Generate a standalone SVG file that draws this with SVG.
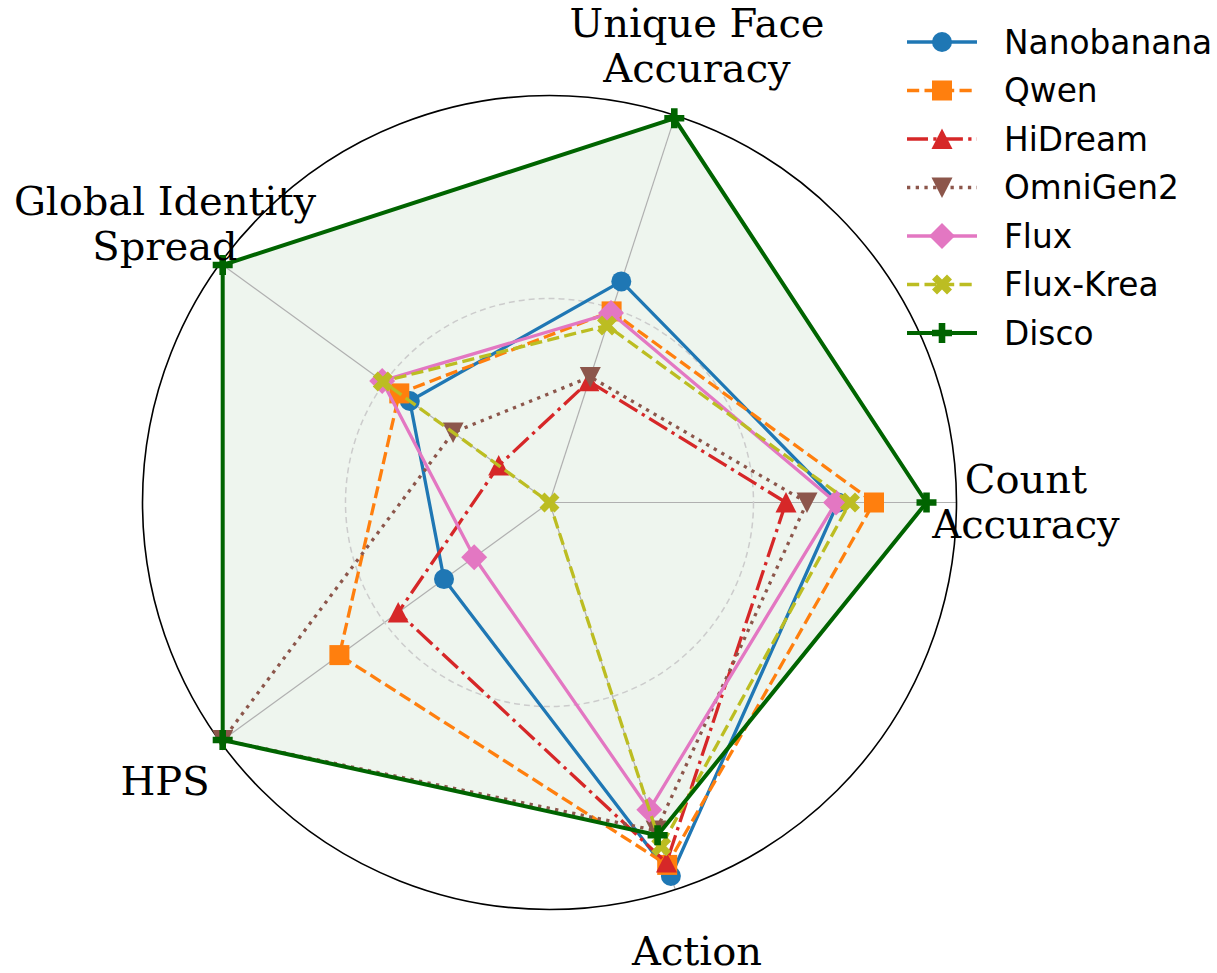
<svg xmlns="http://www.w3.org/2000/svg" xmlns:xlink="http://www.w3.org/1999/xlink" width="1217" height="973" viewBox="0 0 1217 973">
<style>
.lbl{font-family:"DejaVu Serif","Liberation Serif",serif;font-size:40px;fill:#000;text-anchor:middle}
.leg{font-family:"DejaVu Sans","Liberation Sans",sans-serif;font-size:32.8px;fill:#000}
.spoke{stroke:#b0b0b0;stroke-width:1.2;fill:none}
.s{fill:none;stroke-width:3.3;stroke-linejoin:round}
.nano{stroke:#1f77b4}
.qwen{stroke:#ff7f0e;stroke-dasharray:12.2 5.3}
.hid{stroke:#d62728;stroke-dasharray:21 5.3 3.3 5.3}
.omni{stroke:#8c564b;stroke-dasharray:3.3 5.4}
.flux{stroke:#e377c2}
.krea{stroke:#bcbd22;stroke-dasharray:12.2 5.3}
.disco{stroke:#006400;stroke-width:4}
</style>
<defs>
<circle id="mc" r="10" fill="#1f77b4"/>
<rect id="ms" x="-10" y="-10" width="20" height="20" fill="#ff7f0e"/>
<path id="mtu" d="M0,-10.5 L10.5,10 L-10.5,10 Z" fill="#d62728"/>
<path id="mtd" d="M0,10.5 L10.5,-10 L-10.5,-10 Z" fill="#8c564b"/>
<path id="md" d="M0,-13 L13,0 L0,13 L-13,0 Z" fill="#e377c2"/>
<path id="mx" d="M-5,-10 L0,-5 L5,-10 L10,-5 L5,0 L10,5 L5,10 L0,5 L-5,10 L-10,5 L-5,0 L-10,-5 Z" fill="#bcbd22"/>
<path id="mp" d="M-3.3,-10 L3.3,-10 L3.3,-3.3 L10,-3.3 L10,3.3 L3.3,3.3 L3.3,10 L-3.3,10 L-3.3,3.3 L-10,3.3 L-10,-3.3 L-3.3,-3.3 Z" fill="#006400"/>
</defs>
<rect width="1217" height="973" fill="#fff"/>

<g id="axes">
<circle cx="549.5" cy="502.5" r="407" fill="#fff"/>
<polygon id="disco-fill" points="926.5,502.5 674.3,118.3 222.7,265 222.7,740 657.6,835.2" fill="#006400" fill-opacity="0.065"/>
<line class="spoke" x1="549.5" y1="502.5" x2="956.5" y2="502.5"/>
<line class="spoke" x1="549.5" y1="502.5" x2="675.3" y2="115.4"/>
<line class="spoke" x1="549.5" y1="502.5" x2="220.2" y2="263.3"/>
<line class="spoke" x1="549.5" y1="502.5" x2="220.2" y2="741.7"/>
<line class="spoke" x1="549.5" y1="502.5" x2="675.3" y2="889.6"/>
<circle cx="549.5" cy="502.5" r="204" fill="none" stroke="#cccccc" stroke-width="1.5" stroke-dasharray="6 4"/>
<circle cx="549.5" cy="502.5" r="407" fill="none" stroke="#000" stroke-width="1.6"/>
</g>

<g id="connectors">
<g id="series-nanobanana">
<polyline class="s nano" points="838,502.5 621.3,281.4 409.8,401 444,579.1 670.9,876 838,502.5"/>
<use href="#mc" x="838" y="502.5"/><use href="#mc" x="621.3" y="281.4"/><use href="#mc" x="409.8" y="401"/><use href="#mc" x="444" y="579.1"/><use href="#mc" x="670.9" y="876"/>
</g>
<g id="series-qwen">
<polyline class="s qwen" points="874,502.5 611.6,311.4 399.3,393.4 339.4,655.1 667.2,864.9 874,502.5"/>
<use href="#ms" x="874" y="502.5"/><use href="#ms" x="611.6" y="311.4"/><use href="#ms" x="399.3" y="393.4"/><use href="#ms" x="339.4" y="655.1"/><use href="#ms" x="667.2" y="864.9"/>
</g>
<g id="series-hidream">
<polyline class="s hid" points="786,502.5 588.9,381.3 498.7,465.6 398.2,612.4 666.5,862.6 786,502.5"/>
<use href="#mtu" x="786" y="502.5"/><use href="#mtu" x="588.9" y="381.3"/><use href="#mtu" x="498.7" y="465.6"/><use href="#mtu" x="398.2" y="612.4"/><use href="#mtu" x="666.5" y="862.6"/>
</g>
<g id="series-omnigen2">
<polyline class="s omni" points="807,502.5 590.3,376.9 453.1,432.5 222.7,740 656.1,830.6 807,502.5"/>
<use href="#mtd" x="807" y="502.5"/><use href="#mtd" x="590.3" y="376.9"/><use href="#mtd" x="453.1" y="432.5"/><use href="#mtd" x="222.7" y="740"/><use href="#mtd" x="656.1" y="830.6"/>
</g>
<g id="series-flux">
<polyline class="s flux" points="836,502.5 611,313.1 382.2,380.9 474.2,557.2 649.3,809.8 836,502.5"/>
<use href="#md" x="836" y="502.5"/><use href="#md" x="611" y="313.1"/><use href="#md" x="382.2" y="380.9"/><use href="#md" x="474.2" y="557.2"/><use href="#md" x="649.3" y="809.8"/>
</g>
<g id="series-flux-krea">
<polyline class="s krea" points="850,502.5 607,325.5 382.8,381.4 549.5,502.5 661.2,846.3 850,502.5"/>
<use href="#mx" x="850" y="502.5"/><use href="#mx" x="607" y="325.5"/><use href="#mx" x="382.8" y="381.4"/><use href="#mx" x="549.5" y="502.5"/><use href="#mx" x="661.2" y="846.3"/>
</g>
<g id="series-disco">
<polyline class="s disco" points="926.5,502.5 674.3,118.3 222.7,265 222.7,740 657.6,835.2 926.5,502.5"/>
<use href="#mp" x="926.5" y="502.5"/><use href="#mp" x="674.3" y="118.3"/><use href="#mp" x="222.7" y="265"/><use href="#mp" x="222.7" y="740"/><use href="#mp" x="657.6" y="835.2"/>
</g>
</g>

<g id="label-count"><text class="lbl" x="1026" y="493">Count</text><text class="lbl" x="1026" y="538">Accuracy</text></g>
<g id="label-unique"><text class="lbl" x="697" y="37">Unique Face</text><text class="lbl" x="697" y="82">Accuracy</text></g>
<g id="label-global"><text class="lbl" x="165" y="215">Global Identity</text><text class="lbl" x="165" y="260">Spread</text></g>
<g id="label-hps"><text class="lbl" x="165" y="795">HPS</text></g>
<g id="label-action"><text class="lbl" x="697" y="965">Action</text></g>

<g id="legend">
<g id="leg-nanobanana"><line class="s nano" x1="907" y1="42" x2="977" y2="42"/><use href="#mc" x="942" y="42"/><text class="leg" x="1004" y="53.5">Nanobanana</text></g>
<g id="leg-qwen"><line class="s qwen" x1="907" y1="90.5" x2="977" y2="90.5"/><use href="#ms" x="942" y="90.5"/><text class="leg" x="1004" y="102">Qwen</text></g>
<g id="leg-hidream"><line class="s hid" x1="907" y1="139" x2="977" y2="139"/><use href="#mtu" x="942" y="139"/><text class="leg" x="1004" y="150.5">HiDream</text></g>
<g id="leg-omnigen2"><line class="s omni" x1="907" y1="187.5" x2="977" y2="187.5"/><use href="#mtd" x="942" y="187.5"/><text class="leg" x="1004" y="199">OmniGen2</text></g>
<g id="leg-flux"><line class="s flux" x1="907" y1="236" x2="977" y2="236"/><use href="#md" x="942" y="236"/><text class="leg" x="1004" y="247.5">Flux</text></g>
<g id="leg-flux-krea"><line class="s krea" x1="907" y1="284.5" x2="977" y2="284.5"/><use href="#mx" x="942" y="284.5"/><text class="leg" x="1004" y="296">Flux-Krea</text></g>
<g id="leg-disco"><line class="s disco" x1="907" y1="333" x2="977" y2="333"/><use href="#mp" x="942" y="333"/><text class="leg" x="1004" y="344.5">Disco</text></g>
</g>
</svg>
